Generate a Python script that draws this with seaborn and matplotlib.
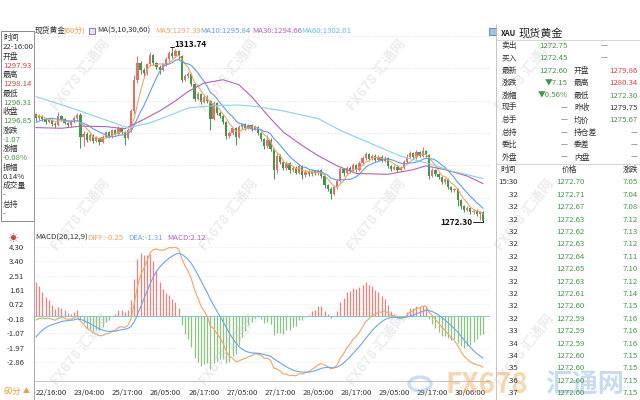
import numpy as np
import pandas as pd
import matplotlib
matplotlib.use('Agg')
import matplotlib.pyplot as plt
from matplotlib.patches import Rectangle
import seaborn as sns

sns.set_style('white')
plt.rcParams['font.family'] = ['Noto Sans CJK SC', 'DejaVu Sans']

W, H = 640, 400

# ---- data (60-minute XAU candles) ----
first_open = 1297.93
pre_close = [1293.6, 1294.0, 1294.5, 1294.6, 1294.75, 1297.0, 1297.6, 1297.9, 1297.6]
close = [1296.85, 1297.3, 1296.6, 1296.0, 1296.5, 1295.6, 1295.2, 1297.4, 1296.8, 1295.8,
         1295.3, 1296.1, 1296.9, 1297.6, 1292.5, 1293.2, 1291.8, 1292.9, 1291.6, 1292.2,
         1291.3, 1292.4, 1293.5, 1292.6, 1294.0, 1293.2, 1294.6, 1293.5, 1292.3, 1294.2,
         1298.5, 1306.0, 1310.0, 1308.2, 1307.6, 1309.6, 1311.8, 1309.9, 1309.0, 1308.4,
         1309.6, 1310.8, 1312.3, 1311.7, 1312.9, 1311.5, 1306.0, 1306.8, 1307.3, 1305.0,
         1301.5, 1302.5, 1300.8, 1302.0, 1301.0, 1296.8, 1300.5, 1298.2, 1297.5, 1296.0,
         1292.6, 1293.4, 1294.5, 1292.5, 1294.8, 1295.4, 1294.6, 1295.2, 1294.3, 1294.9,
         1293.4, 1292.0, 1290.2, 1291.8, 1289.5, 1284.5, 1288.0, 1286.5, 1285.0, 1286.2,
         1284.5, 1285.2, 1284.0, 1285.6, 1283.4, 1284.2, 1283.6, 1284.4, 1283.8, 1284.5,
         1283.2, 1281.0, 1280.2, 1279.0, 1280.5, 1282.0, 1284.8, 1283.8, 1285.2, 1284.4,
         1285.8, 1284.6, 1286.2, 1287.4, 1288.4, 1287.2, 1288.0, 1287.0, 1287.8, 1286.8,
         1287.5, 1285.6, 1284.8, 1285.4, 1284.6, 1285.2, 1286.5, 1287.8, 1288.6, 1287.6,
         1288.8, 1288.0, 1289.0, 1288.2, 1283.2, 1284.6, 1283.6, 1283.0, 1281.8, 1282.4,
         1280.6, 1279.86, 1280.2, 1277.5, 1276.0, 1275.2, 1275.6, 1274.6, 1275.0, 1274.2,
         1274.6, 1272.6]
high = [1298.14, 1297.8, 1297.6, 1296.9, 1297.0, 1296.8, 1295.9, 1298.4, 1297.7, 1297.0,
        1296.0, 1296.4, 1297.3, 1298.1, 1298.1, 1293.9, 1293.5, 1293.3, 1293.1, 1292.7,
        1292.4, 1292.8, 1293.9, 1293.8, 1294.4, 1294.3, 1295.1, 1294.9, 1293.8, 1294.6,
        1299.0, 1307.0, 1311.5, 1310.5, 1308.8, 1310.0, 1312.6, 1312.1, 1310.3, 1309.4,
        1310.0, 1311.3, 1312.8, 1313.74, 1313.3, 1313.1, 1311.9, 1307.4, 1307.8, 1307.6,
        1305.3, 1303.0, 1302.8, 1302.4, 1302.3, 1301.3, 1300.9, 1300.8, 1298.6, 1297.8,
        1296.3, 1293.9, 1294.9, 1294.8, 1295.2, 1295.8, 1295.7, 1295.6, 1295.5, 1295.3,
        1295.1, 1293.7, 1292.3, 1293.0, 1292.1, 1289.9, 1288.6, 1288.3, 1286.9, 1286.7,
        1286.5, 1285.6, 1285.5, 1286.0, 1285.9, 1284.6, 1284.5, 1284.8, 1284.7, 1284.9,
        1284.8, 1283.5, 1281.4, 1280.5, 1281.0, 1282.4, 1285.3, 1285.1, 1285.6, 1285.5,
        1286.2, 1286.1, 1286.7, 1287.9, 1288.9, 1288.7, 1288.5, 1288.3, 1288.2, 1288.1,
        1287.9, 1287.8, 1285.9, 1285.8, 1285.7, 1285.6, 1286.9, 1288.3, 1289.1, 1288.9,
        1289.3, 1289.1, 1290.0, 1289.4, 1288.5, 1285.0, 1284.9, 1283.9, 1283.3, 1282.8,
        1282.7, 1280.9, 1280.34, 1280.3, 1277.8, 1276.3, 1276.0, 1275.9, 1275.4, 1275.3,
        1275.0, 1275.0]
low = [1296.31, 1296.5, 1296.2, 1295.5, 1295.7, 1295.1, 1294.6, 1295.0, 1296.3, 1295.4,
       1294.7, 1294.9, 1295.8, 1296.6, 1289.8, 1290.2, 1291.2, 1291.5, 1291.0, 1291.2,
       1290.6, 1291.0, 1292.1, 1292.2, 1292.3, 1292.8, 1293.0, 1293.1, 1290.6, 1292.0,
       1293.6, 1297.8, 1305.2, 1307.4, 1306.9, 1307.2, 1309.2, 1309.4, 1308.5, 1307.4,
       1308.0, 1309.3, 1310.5, 1311.2, 1311.3, 1310.9, 1305.4, 1305.6, 1306.4, 1304.6,
       1300.9, 1301.1, 1300.2, 1300.5, 1300.4, 1294.0, 1296.4, 1297.7, 1297.0, 1295.5,
       1292.0, 1292.2, 1293.0, 1290.6, 1292.2, 1294.4, 1294.2, 1294.3, 1293.9, 1294.0,
       1293.0, 1291.6, 1289.7, 1289.9, 1289.0, 1282.5, 1284.0, 1286.0, 1284.5, 1284.7,
       1284.0, 1284.1, 1283.6, 1283.7, 1282.6, 1283.0, 1283.2, 1283.3, 1283.4, 1283.5,
       1282.8, 1280.4, 1279.7, 1277.7, 1278.6, 1280.1, 1281.7, 1283.3, 1283.4, 1284.0,
       1284.1, 1284.2, 1284.3, 1285.9, 1287.0, 1286.8, 1286.9, 1286.6, 1286.7, 1286.4,
       1286.5, 1285.2, 1284.4, 1284.5, 1284.2, 1284.3, 1284.9, 1286.2, 1287.5, 1287.2,
       1287.3, 1287.6, 1287.7, 1287.8, 1282.6, 1282.9, 1283.2, 1282.5, 1281.3, 1281.4,
       1280.1, 1279.3, 1279.5, 1276.2, 1275.5, 1274.7, 1274.9, 1274.2, 1274.3, 1273.8,
       1272.8, 1272.30]

ma30_idx = [0, 8, 14, 22, 28, 34, 39, 44, 48, 53, 59, 64, 68, 73, 78, 84, 89, 95, 101,
            111, 119, 123, 129, 136, 141]
ma30_val = [1294.66, 1294.5, 1295.0, 1294.9, 1294.4, 1296.6, 1298.6, 1301.0, 1303.2, 1305.2,
            1306.0, 1304.8, 1302.0, 1297.6, 1293.6, 1290.4, 1288.0, 1285.6, 1283.8,
            1283.6, 1284.7, 1285.6, 1284.7, 1283.2, 1281.4]
ma60_idx = [0, 10, 20, 29, 36, 41, 48, 57, 64, 70, 78, 89, 96, 105, 115, 124, 131, 141]
ma60_val = [1302.01, 1299.6, 1297.0, 1294.6, 1295.8, 1297.2, 1299.3, 1299.9, 1300.0, 1299.6,
            1298.6, 1296.8, 1294.0, 1291.1, 1287.9, 1286.1, 1284.4, 1282.6]

# MACD(26,12,9) state at the first bar: EMA12, EMA26, DEA
ema12_0, ema26_0, dea_0 = 1296.30, 1296.55, -1.31

date_idx = [0, 12, 24, 36, 48, 60, 72, 84, 96, 108, 120, 132]
date_lbl = ['22/16:00', '23/04:00', '25/17:00', '26/05:00', '26/17:00', '27/05:00',
            '27/17:00', '28/05:00', '28/17:00', '29/05:00', '29/17:00', '30/06:00']
macd_ticks = [4.30, 3.40, 2.51, 1.61, 0.72, -0.18, -1.07, -1.97, -2.86]

info_lbl = ['时间', '22-16:00', '开盘', '1297.93', '最高', '1298.14', '最低', '1296.31',
            '收盘', '1296.85', '涨跌', '-1.07', '涨幅', '-0.08%', '振幅', '0.14%',
            '成交量', '-', '总持', '-']
info_col = ['k', 'k', 'k', 'r', 'k', 'r', 'k', 'g', 'k', 'g', 'k', 'g', 'k', 'g',
            'k', 'k', 'k', 'k', 'k', 'k']

quote_rows = [('卖出', '1272.75', 'g', '', '—', 'k'),
              ('买入', '1272.45', 'g', '', '—', 'k'),
              ('最新', '1272.60', 'g', '开盘', '1279.86', 'r'),
              ('涨跌', '▼7.15', 'g', '最高', '1280.34', 'r'),
              ('涨幅', '▼0.56%', 'g', '最低', '1272.30', 'g'),
              ('现手', '—', 'k', '昨收', '1279.75', 'k'),
              ('总手', '—', 'k', '均价', '1275.67', 'g'),
              ('总持', '—', 'k', '持仓差', '—', 'k'),
              ('委比', '—', 'k', '委差', '—', 'k'),
              ('外盘', '—', 'k', '内盘', '—', 'k')]
tick_time = ['15:30', '.32', '.32', '.32', '.32', '.32', '.32', '.32', '.32', '.32',
             '.32', '.32', '.33', '.34', '.34', '.35', '.36', '.37']
tick_price = ['1272.70', '1272.71', '1272.67', '1272.63', '1272.62', '1272.63', '1272.64',
              '1272.65', '1272.63', '1272.61', '1272.60', '1272.59', '1272.59', '1272.59',
              '1272.60', '1272.60', '1272.60', '1272.60']
tick_chg = ['7.05', '7.04', '7.08', '7.12', '7.13', '7.12', '7.11', '7.10', '7.12', '7.14',
            '7.15', '7.16', '7.16', '7.16', '7.15', '7.15', '7.15', '7.15']

# ---- derived series ----
n = len(close)
df = pd.DataFrame({'idx': np.arange(n), 'open': [first_open] + close[:-1],
                   'high': high, 'low': low, 'close': close})
allc = pd.Series(pre_close + close)
df['ma5'] = allc.rolling(5).mean().values[len(pre_close):]
df['ma10'] = allc.rolling(10).mean().values[len(pre_close):]

e12, e26 = ema12_0, ema26_0
diff, dea = [e12 - e26], [dea_0]
for c in close[1:]:
    e12 += (c - e12) * 2 / 13
    e26 += (c - e26) * 2 / 27
    diff.append(e12 - e26)
    dea.append(dea[-1] + (diff[-1] - dea[-1]) * 2 / 10)
df['diff'] = diff
df['dea'] = dea
df['hist'] = 2 * (df['diff'] - df['dea'])

COL = {'k': '#333333', 'r': '#e0403a', 'g': '#3f9a45'}
UP, DOWN = '#e5706a', '#3f9a48'
C_MA5, C_MA10, C_MA30, C_MA60 = '#f3a561', '#5e9ff0', '#b462b8', '#86d3ec'
FS = 5.6

fig = plt.figure(figsize=(6.4, 4.0), dpi=100)


def box(l, t, r, b):
    return [l / W, 1 - b / H, (r - l) / W, (b - t) / H]


def txt(x, y, s, c='#333333', size=FS, ha='left', **kw):
    fig.text(x / W, 1 - y / H, s, color=c, fontsize=size, ha=ha, va='center', **kw)


# ---- watermarks (drawn first, behind everything) ----
for wy in [75, 215, 350]:
    for wx in [80, 228, 376, 524]:
        fig.text(wx / W, 1 - wy / H, 'FX678 汇通网', rotation=52, color='#c4c4c4', alpha=0.3,
                 fontsize=10, fontweight='bold', ha='center', va='center', zorder=0)

# ---- price panel ----
ax = fig.add_axes(box(34, 24, 490, 230))
up = df['close'] >= df['open']
cols = np.where(up, UP, DOWN)
ax.vlines(df['idx'], df['low'], df['high'], colors=cols, lw=0.7, zorder=2)
body = (df['close'] - df['open']).abs().clip(lower=0.1)
ax.bar(df['idx'], body, bottom=df[['open', 'close']].min(axis=1), width=0.72,
       color=cols, linewidth=0, zorder=3)
sns.lineplot(data=df, x='idx', y='ma5', ax=ax, color=C_MA5, lw=0.8, zorder=4)
sns.lineplot(data=df, x='idx', y='ma10', ax=ax, color=C_MA10, lw=0.8, zorder=4)
sns.lineplot(x=ma30_idx, y=ma30_val, ax=ax, color=C_MA30, lw=0.8, zorder=4)
sns.lineplot(x=ma60_idx, y=ma60_val, ax=ax, color=C_MA60, lw=0.8, zorder=4)

i_hi = int(np.argmax(high))
ax.plot([i_hi - 0.6, i_hi + 0.6], [high[i_hi]] * 2, color='k', lw=0.6)
ax.text(i_hi + 0.8, high[i_hi] + 0.7, '%.2f' % high[i_hi], fontsize=6, fontweight='bold',
        va='center', ha='left', color='#111111')
i_lo = int(np.argmin(low))
ax.plot([i_lo - 3.2, i_lo], [low[i_lo]] * 2, color='k', lw=0.6)
ax.plot([i_lo, i_lo], [low[i_lo], low[i_lo] + 0.6], color='k', lw=0.6)
ax.text(i_lo - 3.4, low[i_lo], '%.2f' % low[i_lo], fontsize=6, fontweight='bold',
        va='center', ha='right', color='#111111')

ax.set_xlim(-0.63, 143.2)
ax.set_ylim(1270.41, 1319.19)
ax.set_yticks([1316.3, 1308.7, 1301.0, 1293.4, 1285.8, 1278.1])
ax.set_xticks([])
ax.set_yticklabels([])
ax.tick_params(length=0)
ax.grid(axis='y', color='#e4e4e4', ls=(0, (2, 2)), lw=0.6)
ax.set_xlabel('')
ax.set_ylabel('')
for s in ax.spines.values():
    s.set_visible(False)
ax.patch.set_alpha(0)

# ---- MACD panel ----
axm = fig.add_axes(box(34, 232, 490, 381))
hcols = np.where(df['hist'] > 0, '#e9837c', '#8cc47e')
axm.vlines(df['idx'], 0, df['hist'], colors=hcols, lw=0.9, zorder=2)
axm.axhline(0, color='#7fcfcf', lw=0.8, zorder=3)
sns.lineplot(data=df, x='idx', y='diff', ax=axm, color='#f3a561', lw=0.8, zorder=4)
sns.lineplot(data=df, x='idx', y='dea', ax=axm, color='#6aa6ef', lw=0.8, zorder=4)
axm.set_xlim(-0.63, 143.2)
axm.set_ylim(-4.05, 5.234)
axm.set_yticks(macd_ticks)
axm.set_yticklabels(['%.2f' % v for v in macd_ticks], fontsize=FS, color='#333333')
axm.set_xticks(date_idx)
axm.set_xticklabels(date_lbl, fontsize=FS, color='#333333')
for lb in axm.get_xticklabels():
    lb.set_ha('left')
axm.tick_params(axis='y', length=0, pad=7)
axm.tick_params(axis='x', length=2, pad=4, color='#999999')
axm.grid(axis='y', color='#ececec', ls=(0, (2, 2)), lw=0.6)
axm.set_xlabel('')
axm.set_ylabel('')
for k, s in axm.spines.items():
    s.set_visible(k == 'bottom')
axm.spines['bottom'].set_color('#bbbbbb')
axm.spines['bottom'].set_linewidth(0.6)
axm.patch.set_alpha(0)

# ---- frame lines ----
fig.add_artist(plt.Line2D([33.5 / W] * 2, [1 - 31 / H, 0], color='#9a9a9a', lw=0.6))
fig.add_artist(plt.Line2D([496 / W] * 2, [1 - 24 / H, 0], color='#bbbbbb', lw=0.6))
fig.add_artist(Rectangle((1 / W, 1 - 221 / H), 32.5 / W, 190 / H, fill=False,
                         ec='#777777', lw=0.6))

# ---- headers ----
txt(35, 31, '现货黄金')
txt(63, 31, '(60分)', c='#f0a030')
fig.add_artist(Rectangle((89 / W, 1 - 34 / H), 6 / W, 6 / H, fill=True, fc='#dfe6f5',
                         ec='#8a5db0', lw=0.6))
txt(97, 31, 'MA(5,10,30,60)')
txt(155, 31, 'MA5:1297.39', c=C_MA5)
txt(200, 31, 'MA10:1295.84', c=C_MA10)
txt(252, 31, 'MA30:1294.66', c=C_MA30)
txt(301, 31, 'MA60:1302.01', c='#5fc3e4')
fig.add_artist(Rectangle((489 / W, 1 - 35 / H), 7 / W, 7 / H, fill=True, fc='#9cc3ec',
                         ec='#4a86c8', lw=0.6))

txt(13, 238, '☀', c='#e0403a', size=6.5, ha='center')
txt(35, 238, 'MACD(26,12,9)')
txt(87, 238, 'DIFF:-0.25', c='#f3a561')
txt(128, 238, 'DEA:-1.31', c='#6aa6ef')
txt(167, 238, 'MACD:2.12', c='#b462b8')
txt(4, 391, '60分', c='#f0a030', size=6)
txt(23, 391, '▲', c='#f0a030', size=5)

# left info box
for k, (s, c) in enumerate(zip(info_lbl, info_col)):
    txt(3, 38 + 9.25 * k, s, c=COL[c])

# ---- right quote panel ----
txt(501, 33, 'XAU', c='#222222', size=5.5, fontweight='bold')
txt(519, 33, '现货黄金', c='#222222', size=8)
fig.add_artist(plt.Line2D([497 / W, 640 / W], [1 - 40 / H] * 2, color='#d0d0d0', lw=0.6))
for k, (l1, v1, c1, l2, v2, c2) in enumerate(quote_rows):
    y = 46 + 12.4 * k
    txt(502, y, l1)
    txt(568, y, v1, c=COL[c1], ha='right')
    if l2:
        txt(574, y, l2)
        txt(638, y, v2, c=COL[c2], ha='right')
    else:
        txt(604, y, v2, ha='center')
fig.add_artist(plt.Line2D([497 / W, 640 / W], [1 - 164 / H] * 2, color='#d0d0d0', lw=0.6))
txt(500, 170, '时间')
txt(569, 170, '价格', ha='center')
txt(638, 170, '涨跌', ha='right')
for k in range(len(tick_time)):
    y = 182.4 + 12.4 * k
    txt(518, y, tick_time[k], ha='right')
    txt(570, y, tick_price[k], c=COL['g'], ha='center')
    txt(638, y, tick_chg[k], c=COL['g'], ha='right')

# ---- bottom-right logo (semi-transparent) ----
fig.add_artist(plt.Circle((420 / W, 1 - 384 / H), 11 / W, fill=False, ec='#7fb0e0', lw=2.5,
                          alpha=0.4))
fig.text(445 / W, 1 - 385 / H, 'FX678', color='#f5a34a', alpha=0.45, fontsize=20,
         fontweight='bold', ha='left', va='center', zorder=0)
fig.text(545 / W, 1 - 385 / H, '汇通网', color='#5d9bd6', alpha=0.35, fontsize=19,
         fontweight='bold', ha='left', va='center', zorder=0)

fig.savefig('out.png', dpi=100)
